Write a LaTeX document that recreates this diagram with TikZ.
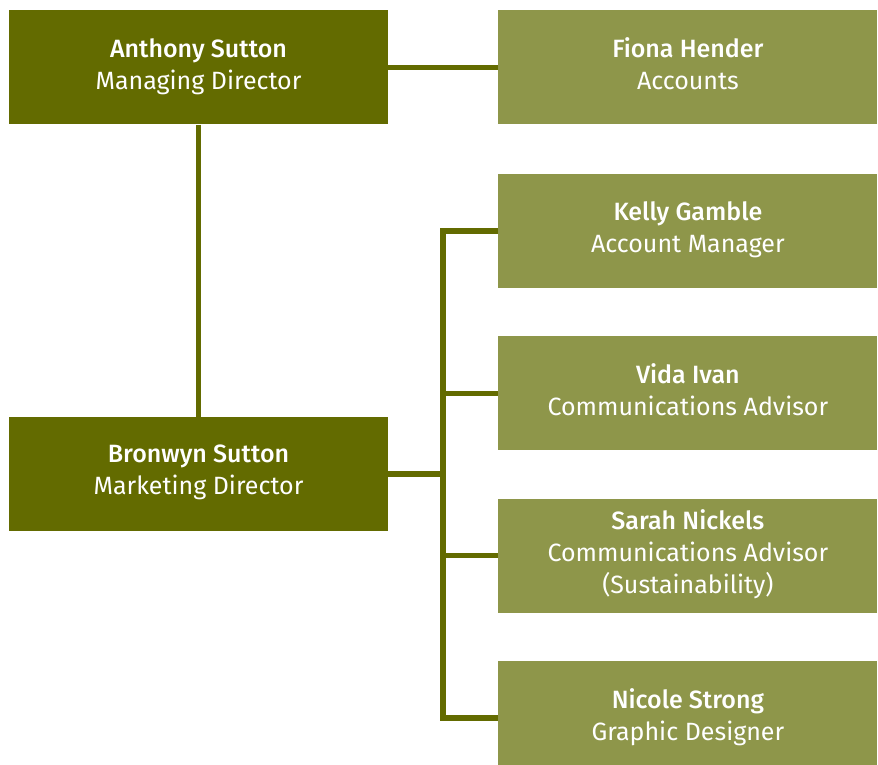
\documentclass[tikz,border=0pt]{standalone}
\usepackage{fontspec}
\setmainfont{Fira Sans}[BoldFont={Fira Sans Medium}]
\usetikzlibrary{positioning}

\definecolor{olivedark}{HTML}{636B00}
\definecolor{olivelight}{HTML}{8E964A}

\tikzset{
  person/.style={rectangle, minimum width=379pt, minimum height=114pt,
    inner sep=0pt, text=white, align=center,
    font=\fontsize{25}{32}\selectfont,
    execute at begin node=\rule{0pt}{24.4pt},
    execute at end node=\rule[-7.6pt]{0pt}{0pt}},
  head/.style={person, fill=olivedark},
  staff/.style={person, fill=olivelight},
  link/.style={draw=olivedark, line width=5.5pt},
}

\begin{document}
\begin{tikzpicture}[x=1pt, y=-1pt, node distance=48pt and 110pt]
	\useasboundingbox (0,0) rectangle (878,765);

	\node[head] (anthony) at (198.5,67.5) {\textbf{Anthony Sutton}\\Managing Director};
	\node[staff] (fiona) [right=of anthony] {\textbf{Fiona Hender}\\Accounts};
	\node[head] (bronwyn) [below=292pt of anthony] {\textbf{Bronwyn Sutton}\\Marketing Director};
	\node[staff] (kelly) [below=49pt of fiona] {\textbf{Kelly Gamble}\\Account Manager};
	\node[staff] (vida) [below=of kelly] {\textbf{Vida Ivan}\\Communications Advisor};
	\node[staff] (sarah) [below=of vida] {\textbf{Sarah Nickels}\\Communications Advisor\\(Sustainability)};
	\node[staff] (nicole) [below=of sarah] {\textbf{Nicole Strong}\\Graphic Designer};

	\draw[link] (anthony) -- (fiona);
	\draw[link] (anthony) -- (bronwyn);
	\draw[link] (bronwyn.east) -- ++(55pt,0) |- (kelly.west);
	\draw[link] (bronwyn.east) -- ++(55pt,0) |- (vida.west);
	\draw[link] (bronwyn.east) -- ++(55pt,0) |- (sarah.west);
	\draw[link] (bronwyn.east) -- ++(55pt,0) |- (nicole.west);
\end{tikzpicture}
\end{document}
